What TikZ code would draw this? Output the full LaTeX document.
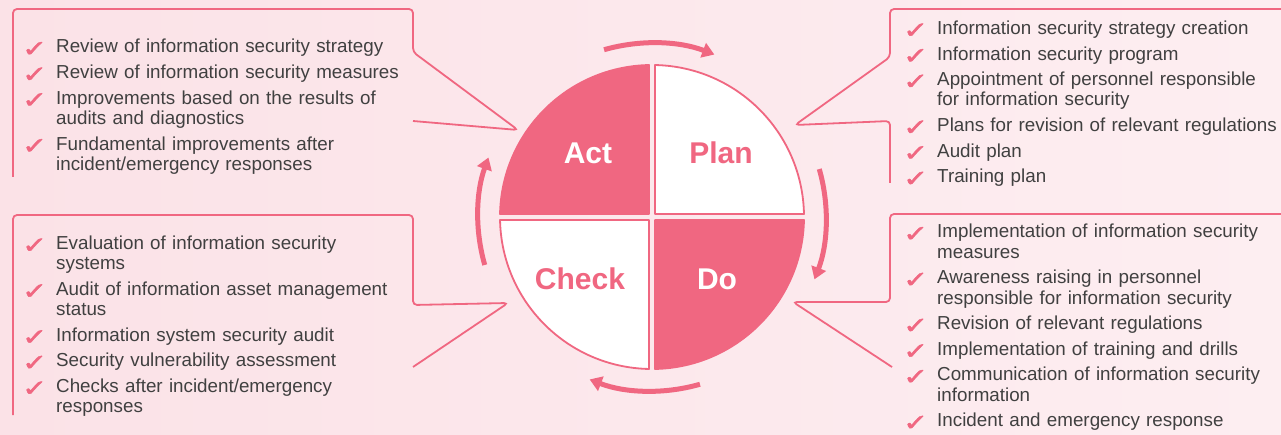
\documentclass[tikz,border=0pt]{standalone}
\usepackage{fontspec}
\setmainfont{Liberation Sans}
\newfontfamily\tickfont[FakeBold=1.8]{DejaVu Sans}
\usepackage{xcolor}
\usepackage{graphicx}
\usetikzlibrary{arrows.meta,positioning,calc}
\definecolor{pdcapink}{RGB}{240,103,129}
\definecolor{pdcatext}{RGB}{64,64,64}
\definecolor{bgleft}{RGB}{251,226,231}
\definecolor{bgright}{RGB}{253,238,241}

\newcommand\tickmark{\makebox[22pt][r]{\raisebox{-3.5pt}[0pt][0pt]{\scalebox{1.3}[1]{\textcolor{pdcapink}{\tickfont\fontsize{23}{23}\selectfont ✓}}}}}
\newenvironment{ticklist}{\begin{list}{\tickmark}{%
    \setlength{\leftmargin}{31pt}\setlength{\labelwidth}{22pt}%
    \setlength{\labelsep}{9pt}\setlength{\itemsep}{5.3pt}%
    \setlength{\parsep}{0pt}\setlength{\topsep}{0pt}\setlength{\partopsep}{0pt}}}%
  {\end{list}}

\tikzset{
  quad/.style={draw=pdcapink, line width=1.8pt, line join=round},
  phase/.style={font=\fontsize{30}{30}\selectfont\bfseries, inner sep=0pt},
  callout/.style={draw=pdcapink, line width=1.8pt, rounded corners=4pt},
  cyclearrow/.style={draw=pdcapink, line width=5pt, -{Triangle[length=12pt,width=15pt]}},
  tasklist/.style={anchor=north west, inner sep=0pt, text=pdcatext, font=\fontsize{18.8}{20.3}\selectfont, align=left},
}

\begin{document}
\begin{tikzpicture}[x=1pt,y=1pt]
    \useasboundingbox (0,0) rectangle (1281,434);
    \shade[left color=bgleft, right color=bgright] (0,0) rectangle (1281,434);
    \coordinate (hub) at (652,217);

    % PDCA wheel
    \foreach \rot/\fc in {0/white,90/pdcapink,180/white,270/pdcapink} {
        \begin{scope}[shift={(hub)}, rotate=\rot]
            \draw[quad, fill=\fc] (3,3) -- (3,151.97) arc[start angle=88.87, end angle=1.13, radius=152] -- cycle;
        \end{scope}
    }
    \node[phase, text=white] (act) at (588,281) {Act};
    \node[phase, text=pdcapink] (plan) at (721,281) {Plan};
    \node[phase, text=pdcapink] (check) at (580,155) {Check};
    \node[phase, text=white] (do) at (717,155) {Do};

    % cycle arrows
    \foreach \a/\b in {106/69,16/-21,-74/-111,-164/-200}
        \draw[cyclearrow] ([shift={(\a:174)}]hub) arc[start angle=\a, end angle=\b, radius=174];

    % callouts
    \coordinate (acttip) at (518,304);
    \coordinate (plantip) at (795,309);
    \coordinate (checktip) at (508,131);
    \coordinate (dotip) at (793,132);
    \draw[callout] (13,257) |- (413,425) -- (413,382) -- (acttip) -- (413,313);
    \draw[callout] (1290,425) -- (890,425) -- (890,377) -- (plantip) -- (890,313) -- (890,251);
    \draw[callout] (13,19) |- (413,219) -- (413,129) -- (checktip) -- (413,67);
    \draw[callout] (1290,220) -- (890,220) -- (890,132) -- (dotip) -- (892,67);

    % task lists
    \node[tasklist, text width=420pt] (actlist) at (25,401.5) {\begin{ticklist}
        \item Review of information security strategy
        \item Review of information security measures
        \item Improvements based on the results of\\audits and diagnostics
        \item Fundamental improvements after\\incident/emergency responses
    \end{ticklist}};
    \node[tasklist, text width=400pt] (planlist) at (906,420) {\begin{ticklist}
        \item Information security strategy creation
        \item Information security program
        \item Appointment of personnel responsible\\for information security
        \item Plans for revision of relevant regulations
        \item Audit plan
        \item Training plan
    \end{ticklist}};
    \node[tasklist, text width=420pt] (checklist) at (25,205) {\begin{ticklist}
        \item Evaluation of information security\\systems
        \item Audit of information asset management\\status
        \item Information system security audit
        \item Security vulnerability assessment
        \item Checks after incident/emergency\\responses
    \end{ticklist}};
    \node[tasklist, text width=400pt] (dolist) at (906,216.5) {\begin{ticklist}
        \item Implementation of information security\\measures
        \item Awareness raising in personnel\\responsible for information security
        \item Revision of relevant regulations
        \item Implementation of training and drills
        \item Communication of information security\\information
        \item Incident and emergency response
    \end{ticklist}};
\end{tikzpicture}
\end{document}
